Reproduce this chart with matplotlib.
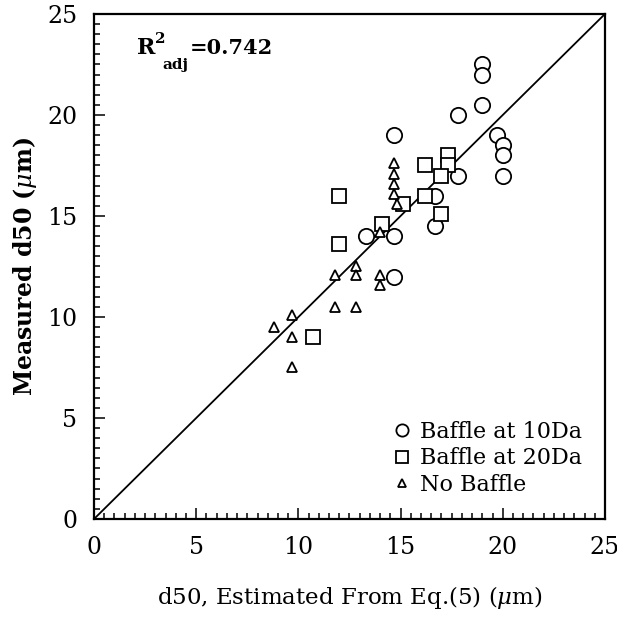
import matplotlib
matplotlib.use("Agg")
import matplotlib.pyplot as plt
from matplotlib.ticker import MultipleLocator

# Baffle at 10Da (circles)
b10_est = [19.0, 19.0, 19.0, 17.8, 14.7, 19.7, 20.0, 20.0, 20.0, 17.8,
           16.7, 16.7, 14.7, 13.3, 14.7]
b10_meas = [22.5, 22.0, 20.5, 20.0, 19.0, 19.0, 18.5, 18.0, 17.0, 17.0,
            16.0, 14.5, 14.0, 14.0, 12.0]
# Baffle at 20Da (squares)
b20_est = [17.3, 17.3, 16.2, 17.0, 12.0, 16.2, 15.1, 17.0, 14.1, 12.0, 10.7]
b20_meas = [18.0, 17.5, 17.5, 17.0, 16.0, 16.0, 15.6, 15.1, 14.6, 13.6, 9.0]
# No baffle (triangles)
nob_est = [14.7, 14.7, 14.7, 14.7, 14.8, 14.0, 12.8, 11.8, 12.8, 14.0,
           14.0, 11.8, 12.8, 9.7, 8.8, 9.7, 9.7]
nob_meas = [17.6, 17.1, 16.6, 16.1, 15.6, 14.2, 12.5, 12.1, 12.1, 12.1,
            11.6, 10.5, 10.5, 10.1, 9.5, 9.0, 7.5]

plt.rcParams.update({
    "font.family": "DejaVu Serif",
    "mathtext.fontset": "dejavuserif",
})

fig = plt.figure(figsize=(6.17, 6.35), dpi=100)
ax = fig.add_axes([0.1524, 0.1827, 0.8281, 0.7953])

ax.plot([0, 25], [0, 25], color="black", lw=1.3, zorder=1)

kw = dict(linestyle="none", markerfacecolor="white", markeredgecolor="black",
          markeredgewidth=1.3, zorder=3)
ax.plot(b10_est, b10_meas, marker="o", ms=11, label="Baffle at 10Da", **kw)
ax.plot(b20_est, b20_meas, marker="s", ms=10, label="Baffle at 20Da", **kw)
ax.plot(nob_est, nob_meas, marker="^", ms=7.5, label="No Baffle", **kw)

ax.set_xlim(0, 25)
ax.set_ylim(0, 25)
ax.xaxis.set_major_locator(MultipleLocator(5))
ax.yaxis.set_major_locator(MultipleLocator(5))
ax.xaxis.set_minor_locator(MultipleLocator(0.5))
ax.yaxis.set_minor_locator(MultipleLocator(0.5))
ax.tick_params(which="both", direction="in", top=False, right=False,
               labelsize=17, width=1.1)
ax.tick_params(which="major", length=8, pad=12)
ax.tick_params(which="minor", length=4)
for s in ax.spines.values():
    s.set_linewidth(1.6)

ax.set_xlabel("d50, Estimated From Eq.(5) ($\\mu$m)", fontsize=16.5,
              labelpad=18)
ax.set_ylabel("Measured d50 ($\\mu$m)", fontsize=17, fontweight="bold",
              labelpad=6)

# R^2_adj annotation built from pieces so the sub/superscripts sit apart
ax.text(2.1, 23.3, "R", fontsize=16, fontweight="bold", va="center", ha="left")
ax.text(3.0, 23.75, "2", fontsize=11, fontweight="bold", va="center", ha="left")
ax.text(3.35, 22.45, "adj", fontsize=11, fontweight="bold", va="center", ha="left")
ax.text(4.7, 23.3, "=0.742", fontsize=15, fontweight="bold", va="center",
        ha="left")

leg = ax.legend(loc="lower right", frameon=False, fontsize=16,
                markerscale=0.8, handlelength=0.8, handletextpad=0.4,
                labelspacing=0.2, bbox_to_anchor=(0.985, 0.015),
                borderaxespad=0.3)

fig.savefig("out.png", dpi=100)
